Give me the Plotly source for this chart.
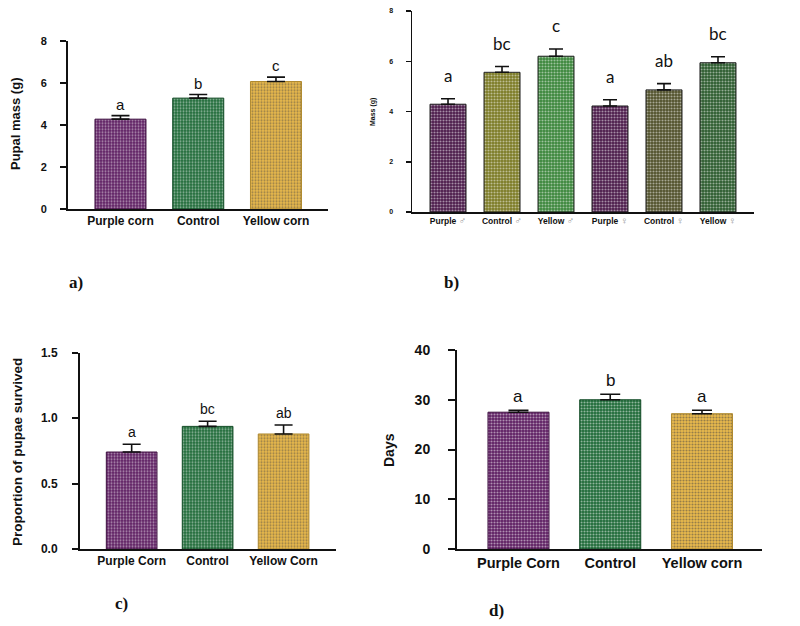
import plotly.graph_objects as go

# ---------------- data ----------------
a_cats = ["Purple corn", "Control", "Yellow corn"]
a_means = [4.27, 5.27, 6.06]
a_errs = [0.17, 0.17, 0.21]
a_letters = ["a", "b", "c"]

b_cats = ["Purple ♂", "Control ♂", "Yellow ♂", "Purple ♀", "Control ♀", "Yellow ♀"]
b_means = [4.29, 5.56, 6.20, 4.22, 4.86, 5.94]
b_errs = [0.22, 0.23, 0.29, 0.25, 0.25, 0.24]
b_letters = ["a", "bc", "c", "a", "ab", "bc"]

c_cats = ["Purple Corn", "Control", "Yellow Corn"]
c_means = [0.741, 0.937, 0.879]
c_errs = [0.059, 0.039, 0.068]
c_letters = ["a", "bc", "ab"]

d_cats = ["Purple Corn", "Control", "Yellow corn"]
d_means = [27.5, 30.0, 27.2]
d_errs = [0.4, 1.1, 0.7]
d_letters = ["a", "b", "a"]

# ---------------- styles ----------------
col3 = ["#5e1f62", "#1f6a38", "#e9b94c"]
fg3 = ["#733078", "#2c7c48", "#f5d174"]
line3 = ["#3e1040", "#104a24", "#b08a30"]
col6 = ["#4b1a4a", "#7b7a24", "#3a863a", "#4b1a4a", "#50502a", "#2b5b2d"]
fg6 = ["#5d295f", "#8e8d36", "#4a964a", "#5d295f", "#626238", "#3a6c3c"]

FONT = "Liberation Sans, Arial, sans-serif"
SERIF = "Liberation Serif, Times New Roman, serif"

fig = go.Figure()

panels = [
    dict(key="", cats=a_cats, means=a_means, errs=a_errs, letters=a_letters,
         colors=col3, fg=fg3, xdom=[68/800, 328/800], ydom=[(626-209)/626, (626-40.7)/626],
         xr=[-0.675, 2.669], yr=[0, 8], tv=[0, 2, 4, 6, 8], fmt="", tick_fs=11, xfs=12,
         let_fs=15, let_shift=1, lw=2, tl=6, width=0.656, capw=9, let_font=FONT, so=11),
    dict(key="2", cats=b_cats, means=b_means, errs=b_errs, letters=b_letters,
         colors=col6, fg=fg6, xdom=[412/800, 754/800], ydom=[(626-212)/626, (626-11)/626],
         xr=[-0.667, 5.667], yr=[0, 8], tv=[0, 2, 4, 6, 8], fmt="", tick_fs=7, xfs=8.5,
         let_fs=17, let_shift=11, lw=1.5, tl=5, width=0.667, capw=7,
         let_font="Lato, Open Sans, sans-serif", so=11),
    dict(key="3", cats=c_cats, means=c_means, errs=c_errs, letters=c_letters,
         colors=col3, fg=fg3, xdom=[80/800, 336/800], ydom=[(626-549)/626, (626-352.7)/626],
         xr=[-0.68, 2.69], yr=[0, 1.5], tv=[0, 0.5, 1.0, 1.5], fmt=".1f", tick_fs=12, xfs=12,
         let_fs=14, let_shift=2, lw=2, tl=6, width=0.667, capw=9, let_font=FONT, so=12),
    dict(key="4", cats=d_cats, means=d_means, errs=d_errs, letters=d_letters,
         colors=col3, fg=fg3, xdom=[457/800, 762/800], ydom=[(626-549)/626, (626-350)/626],
         xr=[-0.67, 2.654], yr=[0, 40], tv=[0, 10, 20, 30, 40], fmt="", tick_fs=14, xfs=14.5,
         let_fs=17, let_shift=2, lw=2, tl=7, width=0.665, capw=10, let_font=FONT, so=15),
]

annotations = []
for i, p in enumerate(panels):
    k = p["key"]
    xs = list(range(len(p["cats"])))
    lines = line3 if len(p["cats"]) == 3 else ["#222222"] * 6
    fig.add_trace(go.Bar(
        x=xs, y=p["means"], width=p["width"],
        marker=dict(color=p["colors"],
                    line=dict(color=lines, width=1),
                    pattern=dict(shape=".", fgcolor=p["fg"], size=3, solidity=0.4,
                                 fillmode="overlay")),
        error_y=dict(type="data", symmetric=False, array=p["errs"],
                     arrayminus=[0] * len(xs), color="#111111",
                     thickness=1.6, width=p["capw"]),
        xaxis="x" + k, yaxis="y" + k, showlegend=False, hoverinfo="skip",
    ))
    if len(p["cats"]) == 6:
        ticktext = []
        for c in p["cats"]:
            name, sym = c.split(" ")
            ticktext.append(f"<b>{name}</b> <span style='color:#8c8c8c;font-size:10px'>{sym}</span>")
    else:
        ticktext = [f"<b>{c}</b>" for c in p["cats"]]
    fig.update_layout(**{
        "xaxis" + k: dict(domain=p["xdom"], range=p["xr"], tickvals=xs, ticktext=ticktext,
                          anchor="y" + k, showline=True, linecolor="#111111", linewidth=p["lw"],
                          ticks="", showgrid=False, zeroline=False, automargin=False,
                          tickfont=dict(family=FONT, size=p["xfs"], color="#111111"),
                          fixedrange=True),
        "yaxis" + k: dict(domain=p["ydom"], range=p["yr"], tickvals=p["tv"], tickformat=p["fmt"],
                          anchor="x" + k, showline=True, linecolor="#111111", linewidth=p["lw"],
                          ticks="outside", ticklen=p["tl"], tickwidth=p["lw"], tickcolor="#111111",
                          ticklabelstandoff=p["so"],
                          showgrid=False, zeroline=False, automargin=False,
                          tickfont=dict(family=FONT, size=p["tick_fs"], color="#111111", weight="bold"),
                          fixedrange=True),
    })
    for x, m, e, L in zip(xs, p["means"], p["errs"], p["letters"]):
        annotations.append(dict(x=x, y=m + e, xref="x" + k, yref="y" + k, text=L,
                                showarrow=False, yanchor="bottom", yshift=p["let_shift"],
                                font=dict(family=p["let_font"], size=p["let_fs"], color="#111111")))

paper_notes = [
    dict(x=15, y=124, text="<b>Pupal mass (g)</b>", textangle=-90,
         font=dict(family=FONT, size=13, color="#111111")),
    dict(x=373, y=112, text="<b>Mass (g)</b>", textangle=-90,
         font=dict(family=FONT, size=7, color="#111111")),
    dict(x=17, y=452, text="<b>Proportion of pupae survived</b>", textangle=-90,
         font=dict(family=FONT, size=13.5, color="#111111")),
    dict(x=389, y=450, text="<b>Days</b>", textangle=-90,
         font=dict(family=FONT, size=14, color="#111111")),
]
for t, x, y in [("a)", 76, 282), ("b)", 452, 282), ("c)", 121, 603), ("d)", 496, 610)]:
    paper_notes.append(dict(x=x, y=y, text=f"<b>{t}</b>",
                            font=dict(family=SERIF, size=17, color="#111111")))

for a in paper_notes:
    a.update(x=a["x"] / 800, y=1 - a["y"] / 626, xref="paper", yref="paper",
             xanchor="center", yanchor="middle", showarrow=False)
    annotations.append(a)

fig.update_layout(template="none", width=800, height=626,
                  margin=dict(l=0, r=0, t=0, b=0, pad=0, autoexpand=False),
                  paper_bgcolor="white", plot_bgcolor="white", bargap=0,
                  hovermode=False, annotations=annotations)

fig.write_html("out.html", config={"displayModeBar": False, "staticPlot": True},
               post_script="document.body.style.margin='0';document.body.style.overflow='hidden';")
